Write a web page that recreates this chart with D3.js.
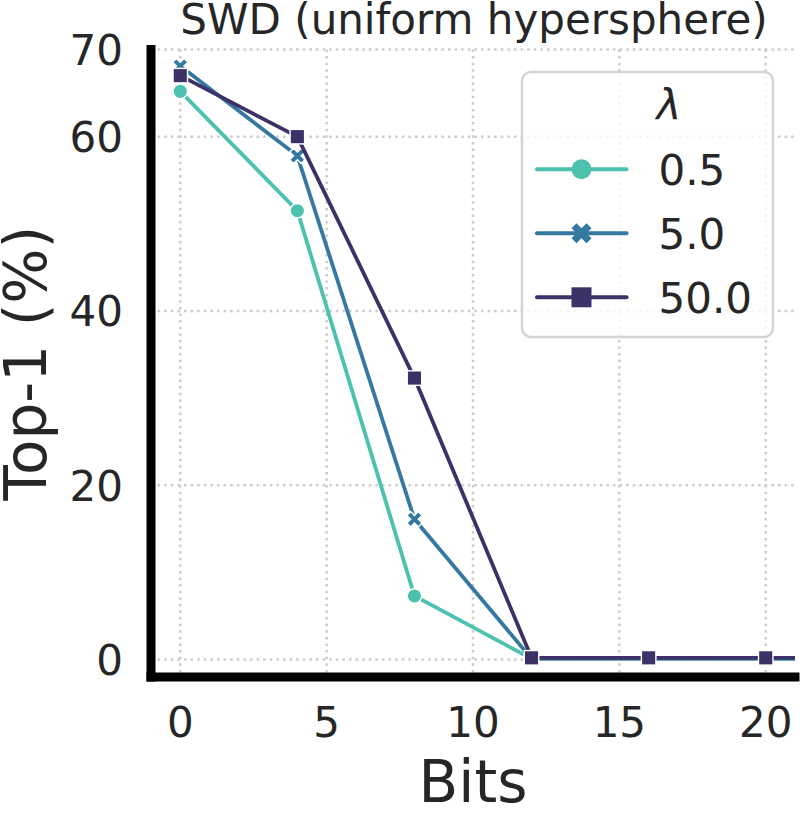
<!DOCTYPE html>
<html>
<head>
<meta charset="utf-8">
<script src="https://cdn.jsdelivr.net/npm/d3@7/dist/d3.min.js"></script>
<style>
  html, body { margin: 0; padding: 0; background: #ffffff; }
  svg { display: block; }
  text { font-family: "DejaVu Sans", sans-serif; fill: #262626; }
</style>
</head>
<body>
<svg id="chart" width="812" height="815"></svg>
<script>
// ---- data ----
const bits = [0, 4, 8, 12, 16, 20, 24];
const lambdas = ["0.5", "5.0", "50.0"];
const top1_lambda_0_5  = [65.2, 51.5, 7.3, 0.1, 0.1, 0.1, 0.1];
const top1_lambda_5_0  = [68.1, 57.8, 16.1, 0.1, 0.1, 0.1, 0.1];
const top1_lambda_50_0 = [67.0, 60.0, 32.3, 0.2, 0.2, 0.2, 0.2];
const xTicks = [0, 5, 10, 15, 20];
const yTicks = [0, 20, 40, 60, 70];
const titleText = "SWD (uniform hypersphere)";
const xLabel = "Bits";
const yLabel = "Top-1 (%)";
const legendTitle = "λ";

const seriesValues = [top1_lambda_0_5, top1_lambda_5_0, top1_lambda_50_0];
const colors = ["#4cc1ad", "#3579a1", "#3d3268"];
const markers = ["circle", "x", "square"];

// ---- layout ----
const svg = d3.select("#chart");
const L = 151, R = 795, T = 49.5, B = 677;
const x = d3.scaleLinear().domain([-1, 21]).range([L, R]);
const y = d3.scaleLinear().domain([-2, 70]).range([B, T]);

svg.append("defs").append("clipPath").attr("id", "plotclip")
  .append("rect").attr("x", L).attr("y", T).attr("width", R - L).attr("height", B - T);

// grid
const grid = svg.append("g");
grid.selectAll("line.gx").data(xTicks).enter().append("line")
  .attr("x1", d => x(d)).attr("x2", d => x(d)).attr("y1", T).attr("y2", B)
  .attr("stroke", "#cccccc").attr("stroke-width", 2.5).attr("stroke-dasharray", "2.5,4.1");
grid.selectAll("line.gy").data(yTicks).enter().append("line")
  .attr("y1", d => y(d)).attr("y2", d => y(d)).attr("x1", L).attr("x2", R)
  .attr("stroke", "#cccccc").attr("stroke-width", 2.5).attr("stroke-dasharray", "2.5,4.1");

// marker path generator
function xFilledPath(s) {
  const u = s / 6;
  const pts = [[-1,-3],[1,-3],[1,-1],[3,-1],[3,1],[1,1],[1,3],[-1,3],[-1,1],[-3,1],[-3,-1],[-1,-1]];
  const c = Math.SQRT1_2;
  return "M" + pts.map(p => {
    const px = p[0] * u, py = p[1] * u;
    return [(px * c - py * c).toFixed(2), (px * c + py * c).toFixed(2)].join(",");
  }).join("L") + "Z";
}
function drawMarker(g, type, cx, cy, size, color, edge) {
  if (type === "circle") {
    g.append("circle").attr("cx", cx).attr("cy", cy).attr("r", size / 2)
      .attr("fill", color).attr("stroke", edge ? "#ffffff" : "none").attr("stroke-width", edge || 0);
  } else if (type === "square") {
    g.append("rect").attr("x", cx - size / 2).attr("y", cy - size / 2)
      .attr("width", size).attr("height", size)
      .attr("fill", color).attr("stroke", edge ? "#ffffff" : "none").attr("stroke-width", edge || 0);
  } else {
    g.append("path").attr("d", xFilledPath(size * 1.25))
      .attr("transform", `translate(${cx},${cy})`)
      .attr("fill", color).attr("stroke", edge ? "#ffffff" : "none").attr("stroke-width", edge || 0);
  }
}

// series
const plot = svg.append("g").attr("clip-path", "url(#plotclip)");
const lineGen = d3.line().x(d => x(d[0])).y(d => y(d[1]));
seriesValues.forEach((vals, i) => {
  const pts = bits.map((b, j) => [b, vals[j]]);
  const g = plot.append("g");
  g.append("path").attr("d", lineGen(pts)).attr("fill", "none")
    .attr("stroke", colors[i]).attr("stroke-width", 3.8).attr("stroke-linejoin", "round");
  pts.forEach(p => {
    const size = markers[i] === "x" ? 13 : 14.5;
    drawMarker(g, markers[i], x(p[0]), y(p[1]), size, colors[i], 1.4);
  });
});

// spines
svg.append("line").attr("x1", L).attr("x2", L).attr("y1", T - 4.5).attr("y2", B + 4.5)
  .attr("stroke", "#000").attr("stroke-width", 9);
svg.append("line").attr("x1", L - 4.5).attr("x2", R + 4.5).attr("y1", B).attr("y2", B)
  .attr("stroke", "#000").attr("stroke-width", 9);

// tick labels
svg.selectAll("text.yt").data(yTicks).enter().append("text")
  .attr("x", 123).attr("y", d => y(d) + 15.3).attr("text-anchor", "end")
  .attr("font-size", 42).text(d => d);
svg.selectAll("text.xt").data(xTicks).enter().append("text")
  .attr("x", d => x(d)).attr("y", 737).attr("text-anchor", "middle")
  .attr("font-size", 42).text(d => d);

// axis labels & title
svg.append("text").attr("x", (L + R) / 2).attr("y", 802).attr("text-anchor", "middle")
  .attr("font-size", 58).text(xLabel);
svg.append("text").attr("transform", `translate(46,${(T + B) / 2}) rotate(-90)`)
  .attr("text-anchor", "middle").attr("font-size", 58).text(yLabel);
svg.append("text").attr("x", (L + R) / 2 + 1).attr("y", 34).attr("text-anchor", "middle")
  .attr("font-size", 42).text(titleText);

// legend
const lg = svg.append("g");
lg.append("rect").attr("x", 522).attr("y", 72).attr("width", 251).attr("height", 265)
  .attr("rx", 9).attr("fill", "#ffffff").attr("fill-opacity", 0.8)
  .attr("stroke", "#d4d4d4").attr("stroke-width", 2.5);
lg.append("text").attr("x", 669).attr("y", 120).attr("text-anchor", "middle")
  .attr("font-size", 42).attr("font-style", "italic").text(legendTitle);
const rowY = [169.3, 233.3, 297.3];
lambdas.forEach((lab, i) => {
  lg.append("line").attr("x1", 537).attr("x2", 626.5).attr("y1", rowY[i]).attr("y2", rowY[i])
    .attr("stroke", colors[i]).attr("stroke-width", 4).attr("stroke-linecap", "round");
  drawMarker(lg, markers[i], 581.5, rowY[i], markers[i] === "x" ? 17 : 20, colors[i], 0);
  lg.append("text").attr("x", 658.5).attr("y", rowY[i] + 15.8).attr("font-size", 42).text(lab);
});
</script>
</body>
</html>
